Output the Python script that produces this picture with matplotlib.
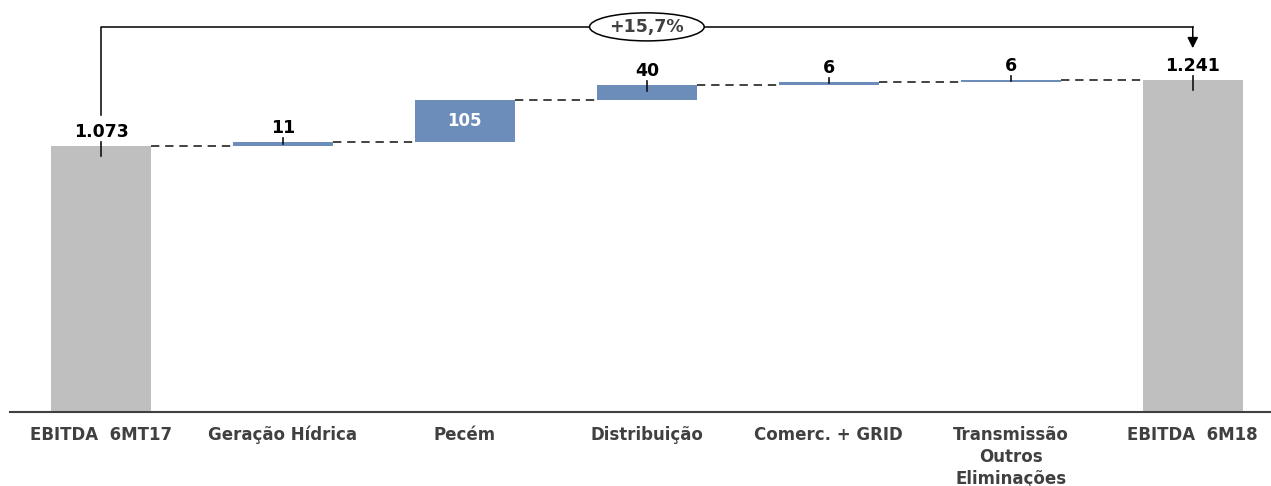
"""
EBITDA bridge 6M17 -> 6M18 (waterfall chart).
"""

import matplotlib
matplotlib.use("Agg")
import matplotlib.pyplot as plt
from matplotlib.patches import Ellipse

plt.rcParams["font.family"] = ["DejaVu Sans"]

categories = [
    "EBITDA  6MT17",
    "Geração Hídrica",
    "Pecém",
    "Distribuição",
    "Comerc. + GRID",
    "Transmissão\nOutros\nEliminações",
    "EBITDA  6M18",
]
ebitda_start = 1073
deltas = [11, 105, 40, 6, 6]
ebitda_end = 1241

GREY = "#BFBFBF"
BLUE = "#6C8CBA"
TEXT = "#404040"


def fmt(v):
    return f"{v:,}".replace(",", ".")


fig = plt.figure(figsize=(12.71, 4.86), dpi=100)
ax = fig.add_axes([10 / 1271, 74 / 486, 1261 / 1271, 412 / 486])

y0 = 400
ax.set_xlim(-0.5, 6.43)
ax.set_ylim(y0, y0 + 412 / 0.395)
width = 0.55

# bar bottoms / heights
bottoms = [y0]
heights = [ebitda_start - y0]
running = ebitda_start
for d in deltas:
    bottoms.append(running)
    heights.append(d)
    running += d
bottoms.append(y0)
heights.append(ebitda_end - y0)
colors = [GREY] + [BLUE] * len(deltas) + [GREY]

x = list(range(len(categories)))
ax.bar(x, heights, bottom=bottoms, width=width, color=colors, linewidth=0, zorder=2)

# dashed connectors at the running total
level = ebitda_start
for i in range(len(categories) - 1):
    if 1 <= i <= len(deltas):
        level += deltas[i - 1]
    ax.plot([i + width / 2, i + 1 - width / 2], [level, level],
            color="#222222", lw=1.2, ls=(0, (5, 3.5)), zorder=1)

# value labels
values = [ebitda_start] + deltas + [ebitda_end]
for i, (b, h, v) in enumerate(zip(bottoms, heights, values)):
    top = b + h
    if v > 100 and i not in (0, len(values) - 1):
        ax.text(i, b + h / 2, fmt(v), ha="center", va="center",
                color="white", fontsize=12, fontweight="bold", zorder=3)
        continue
    depth = min(25, 0.4 * h)
    ax.plot([i, i], [top + 10, top - depth], color="#111111", lw=1.2, zorder=3)
    ax.annotate(fmt(v), (i, top), xytext=(0, 6.5), textcoords="offset points",
                ha="center", va="baseline", fontsize=12.5, fontweight="bold",
                color="black", zorder=3)

# growth bracket
last = len(categories) - 1
y_br = 1375
ax.plot([0, 0, last], [ebitda_start + 80, y_br, y_br], color="black", lw=1.1, zorder=3)
ax.annotate("", xy=(last, ebitda_end + 80), xytext=(last, y_br),
            arrowprops=dict(arrowstyle="-|>", color="black", lw=1.1,
                            mutation_scale=16, shrinkA=0, shrinkB=0))
growth = (ebitda_end / ebitda_start - 1) * 100
mid = last / 2
ax.add_patch(Ellipse((mid, y_br), 0.63, 71, facecolor="white",
                     edgecolor="black", lw=1.1, zorder=4))
ax.text(mid, y_br, f"+{growth:.1f}%".replace(".", ","), ha="center", va="center",
        fontsize=12.5, fontweight="bold", color=TEXT, zorder=5)

# axes styling
for s in ("top", "right", "left"):
    ax.spines[s].set_visible(False)
ax.spines["bottom"].set_color(TEXT)
ax.spines["bottom"].set_linewidth(1.5)
ax.set_yticks([])
ax.set_xticks(x)
ax.set_xticklabels(categories, fontsize=12, fontweight="bold", color=TEXT,
                   linespacing=1.28)
ax.tick_params(axis="x", length=0, pad=10)

fig.savefig("out.png", dpi=100)
